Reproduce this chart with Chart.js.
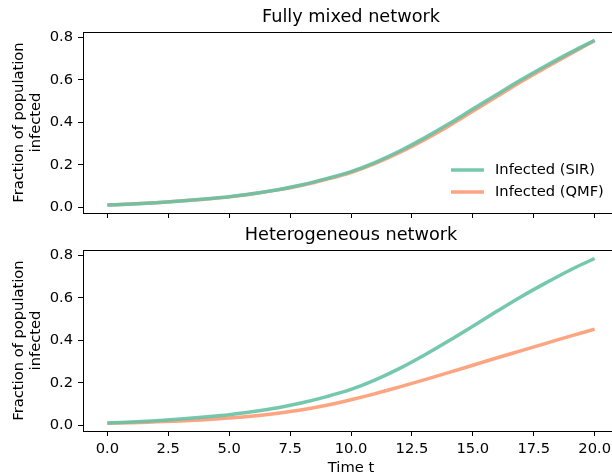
<!DOCTYPE html>
<html>
<head>
<meta charset="utf-8">
<script src="https://cdn.jsdelivr.net/npm/chart.js@4.4.1/dist/chart.umd.min.js"></script>
<style>
  html, body { margin: 0; padding: 0; overflow: hidden; background: #fff; }
  body { width: 612px; height: 474px; position: relative; }
  .panel { position: absolute; left: 0; }
</style>
</head>
<body>
<div class="panel" style="top:0px;width:620px;height:237px"><canvas id="mixedChart"></canvas></div>
<div class="panel" style="top:220px;width:620px;height:257px"><canvas id="heteroChart"></canvas></div>
<script>
// time steps and infected fractions for both models
const timeSteps = [0, 1, 2, 3, 4, 5, 6, 7, 8, 9, 10, 11, 12, 13, 14, 15, 16, 17, 18, 19, 20];
const sirMixed = [0.011, 0.015, 0.021, 0.029, 0.039, 0.050, 0.065, 0.083, 0.106, 0.135, 0.168,
                  0.212, 0.265, 0.326, 0.392, 0.463, 0.533, 0.602, 0.667, 0.729, 0.787];
const qmfMixed = [0.011, 0.015, 0.021, 0.029, 0.038, 0.049, 0.064, 0.082, 0.104, 0.132, 0.164,
                  0.207, 0.258, 0.317, 0.382, 0.452, 0.523, 0.593, 0.659, 0.723, 0.785];
const sirHetero = [0.011, 0.015, 0.021, 0.029, 0.039, 0.050, 0.065, 0.083, 0.106, 0.135, 0.169,
                   0.214, 0.268, 0.330, 0.397, 0.467, 0.538, 0.607, 0.671, 0.732, 0.786];
const qmfHetero = [0.010, 0.012, 0.016, 0.020, 0.026, 0.034, 0.044, 0.057, 0.073, 0.094, 0.120,
                   0.149, 0.181, 0.214, 0.248, 0.283, 0.318, 0.352, 0.386, 0.420, 0.453];

const xTicks = [0, 2.5, 5, 7.5, 10, 12.5, 15, 17.5, 20];
const yTicks = [0, 0.2, 0.4, 0.6, 0.8];
const seriesLabels = ['Infected (SIR)', 'Infected (QMF)'];
const panelTitles = ['Fully mixed network', 'Heterogeneous network'];

const FONT = 'DejaVu Sans';
const TEXT_SIZE = 14.7;
const LINE_W = 3.5;
const sirColor = 'rgba(102, 194, 165, 0.9)';
const qmfColor = 'rgba(252, 141, 98, 0.8)';

function points(ys) {
    return timeSteps.map((t, i) => ({ x: t, y: ys[i] }));
}

// title above the axes, top spine, optional legend in the lower right
const panelDecor = {
    id: 'panelDecor',
    afterDraw(chart, args, opts) {
        const ctx = chart.ctx;
        const a = chart.chartArea;
        ctx.save();
        ctx.strokeStyle = '#000';
        ctx.lineWidth = 1;
        ctx.beginPath();
        const yTop = Math.round(a.top) + 0.5;
        ctx.moveTo(a.left, yTop);
        ctx.lineTo(a.right, yTop);
        ctx.stroke();

        ctx.fillStyle = '#000';
        ctx.font = '17.7px "' + FONT + '"';
        ctx.textAlign = 'center';
        ctx.textBaseline = 'middle';
        ctx.fillText(opts.title, (a.left + a.right) / 2, a.top - 15);

        if (opts.legend) {
            ctx.font = TEXT_SIZE + 'px "' + FONT + '"';
            ctx.textAlign = 'left';
            chart.data.datasets.forEach((ds, i) => {
                const y = a.bottom - 43 + i * 22;
                ctx.strokeStyle = ds.borderColor;
                ctx.lineWidth = LINE_W;
                ctx.beginPath();
                ctx.moveTo(a.right - 168, y);
                ctx.lineTo(a.right - 135, y);
                ctx.stroke();
                ctx.fillStyle = '#000';
                ctx.fillText(ds.label, a.right - 124, y);
            });
        }
        ctx.restore();
    }
};

function makeChart(canvasId, sir, qmf, title, opts) {
    const ctx = document.getElementById(canvasId).getContext('2d');
    return new Chart(ctx, {
        type: 'line',
        data: {
            datasets: [{
                label: seriesLabels[0],
                data: points(sir),
                borderColor: sirColor,
                borderWidth: LINE_W,
                pointRadius: 0,
                cubicInterpolationMode: 'monotone'
            }, {
                label: seriesLabels[1],
                data: points(qmf),
                borderColor: qmfColor,
                borderWidth: LINE_W,
                pointRadius: 0,
                cubicInterpolationMode: 'monotone'
            }]
        },
        plugins: [panelDecor],
        options: {
            responsive: true,
            maintainAspectRatio: false,
            animation: false,
            layout: { padding: { top: opts.padTop, left: 0, right: 1, bottom: 0 } },
            plugins: {
                legend: { display: false },
                tooltip: { enabled: false },
                panelDecor: { title: title, legend: opts.legend }
            },
            scales: {
                x: {
                    type: 'linear',
                    min: -1,
                    max: 21,
                    afterBuildTicks: s => { s.ticks = xTicks.map(v => ({ value: v })); },
                    afterFit: s => { s.height = opts.xHeight; },
                    border: { display: true, color: '#000', width: 1 },
                    grid: { drawOnChartArea: false, color: '#000', tickLength: 5, lineWidth: 1 },
                    ticks: {
                        display: opts.showX,
                        color: '#000',
                        padding: 4,
                        maxRotation: 0,
                        font: { family: FONT, size: TEXT_SIZE },
                        callback: v => v.toFixed(1)
                    },
                    title: {
                        display: opts.showX,
                        text: 'Time t',
                        color: '#000',
                        padding: { top: 0, bottom: 0 },
                        font: { family: FONT, size: TEXT_SIZE }
                    }
                },
                y: {
                    min: -0.027,
                    max: 0.826,
                    afterBuildTicks: s => { s.ticks = yTicks.map(v => ({ value: v })); },
                    afterFit: s => { s.width = 83; },
                    border: { display: true, color: '#000', width: 1 },
                    grid: { drawOnChartArea: false, color: '#000', tickLength: 5, lineWidth: 1 },
                    ticks: {
                        color: '#000',
                        padding: 5,
                        font: { family: FONT, size: TEXT_SIZE },
                        callback: v => v.toFixed(1)
                    },
                    title: {
                        display: true,
                        text: ['Fraction of population', 'infected'],
                        color: '#000',
                        padding: { top: 10.2, bottom: 0 },
                        font: { family: FONT, size: TEXT_SIZE }
                    }
                }
            }
        }
    });
}

makeChart('mixedChart', sirMixed, qmfMixed, panelTitles[0],
    { padTop: 32, xHeight: 24, showX: false, legend: true });
makeChart('heteroChart', sirHetero, qmfHetero, panelTitles[1],
    { padTop: 30, xHeight: 46, showX: true, legend: false });
</script>
</body>
</html>
